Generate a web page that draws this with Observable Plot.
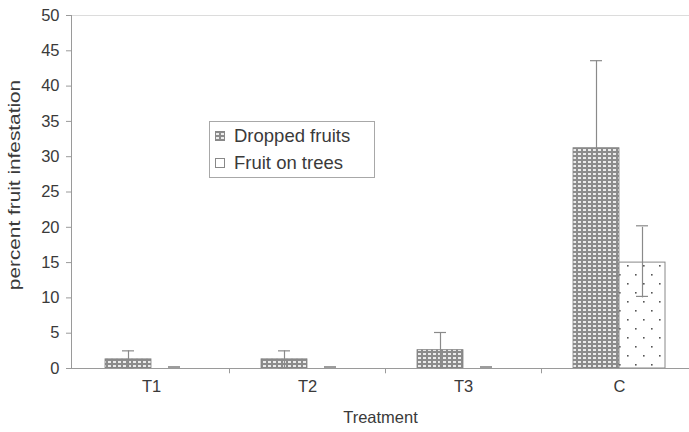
<!DOCTYPE html>
<html>
<head>
<meta charset="utf-8">
<script src="https://cdn.jsdelivr.net/npm/d3@7"></script>
<script src="https://cdn.jsdelivr.net/npm/@observablehq/plot@0.6"></script>
<style>
  html, body { margin: 0; padding: 0; background: #fff; }
  #chart { width: 689px; height: 432px; }
  svg { font-family: "Liberation Sans", Arial, sans-serif; }
</style>
</head>
<body>
<div id="chart"></div>
<script>
const treatments = ["T1", "T2", "T3", "C"];
const seriesNames = ["Dropped fruits", "Fruit on trees"];
const droppedMean = [1.3, 1.3, 2.6, 31.2];
const droppedErr  = [1.2, 1.2, 2.5, 12.4];
const treesMean   = [0, 0, 0, 15.0];
const treesErr    = [0, 0, 0, 5.0];
const yTicks = [0, 5, 10, 15, 20, 25, 30, 35, 40, 45, 50];

const dropped = treatments.map((t, i) => ({treatment: t, value: droppedMean[i], lo: droppedMean[i] - droppedErr[i], hi: droppedMean[i] + droppedErr[i]}));
const trees = treatments.map((t, i) => ({treatment: t, value: treesMean[i], lo: treesMean[i] - treesErr[i], hi: treesMean[i] + treesErr[i]}));

const W = 689, H = 432;
const barW = 46;
const rangeX = [73, 697];
const step = (rangeX[1] - rangeX[0]) / treatments.length;
const padInner = 1 - barW / step;
const textColor = "#3a3a3a";
const axisColor = "#9a9a9a";
const errColor = "#8a8a8a";
const fs = 16;

function errorMarks(data, dx, dy) {
  return [
    Plot.ruleX(data, {x: "treatment", y1: "lo", y2: "hi", dx, stroke: errColor, strokeWidth: 1.2}),
    Plot.tickY(data, {x: "treatment", y: "hi", dx, dy, insetLeft: 17, insetRight: 17, stroke: errColor, strokeWidth: 1.2}),
    Plot.tickY(data, {x: "treatment", y: "lo", dx, dy, insetLeft: 17, insetRight: 17, stroke: errColor, strokeWidth: 1.2})
  ];
}

const chart = Plot.plot({
  width: W,
  height: H,
  marginLeft: 71,
  marginRight: 0,
  marginTop: 15,
  marginBottom: 64,
  style: {fontSize: fs + "px", color: textColor, background: "#fff"},
  x: {type: "band", domain: treatments, range: rangeX, paddingInner: padInner, paddingOuter: padInner / 2, label: null},
  y: {domain: [0, 50], label: null},
  marks: [
    Plot.frame({anchor: "top", stroke: "#dcdcdc"}),
    Plot.barY(dropped.filter(d => d.value > 0), {x: "treatment", y: "value", dx: -barW / 2, fill: "url(#patDropped)", stroke: "#808080", strokeWidth: 0.8}),
    Plot.barY(trees.filter(d => d.value > 0), {x: "treatment", y: "value", dx: barW / 2, fill: "url(#patTrees)", stroke: "#888", strokeWidth: 1}),
    Plot.frame({anchor: "left", stroke: axisColor}),
    Plot.frame({anchor: "bottom", stroke: axisColor}),
    ...errorMarks(dropped, -barW / 2, 0),
    ...errorMarks(trees, barW / 2, -1.5),
    Plot.ruleX(treatments.slice(1), {x: d => d, dx: -step / 2, y1: 0, y2: -0.75, stroke: axisColor}),
    Plot.axisY({ticks: yTicks, tickSize: 5, tickPadding: 7, stroke: axisColor, fill: textColor, fontSize: fs + 0.5, label: null}),
    Plot.axisX({tickSize: 0, tickPadding: 12, fill: textColor, fontSize: fs + 0.5, label: null}),
    Plot.text(["Treatment"], {frameAnchor: "bottom", dy: 54, fill: textColor, fontSize: fs + 0.5}),
    Plot.text(["percent fruit infestation"], {frameAnchor: "left", textAnchor: "middle", dx: -57, dy: -7, rotate: -90, fill: textColor, fontSize: fs, className: "ylab"})
  ]
});

document.getElementById("chart").appendChild(chart);

const svg = d3.select(chart);
// stretch the y label along its length to match the reference's proportions
svg.selectAll(".ylab text").attr("transform", function() { return (this.getAttribute("transform") || "") + " scale(1.3,1)"; });

const defs = svg.insert("defs", ":first-child");
const p1 = defs.append("pattern").attr("id", "patDropped").attr("patternUnits", "userSpaceOnUse").attr("width", 5).attr("height", 4);
p1.append("rect").attr("width", 5).attr("height", 4).attr("fill", "#8c8c8c");
p1.append("rect").attr("x", 1).attr("y", 1).attr("width", 3).attr("height", 2).attr("fill", "#ececec");
const p2 = defs.append("pattern").attr("id", "patTrees").attr("patternUnits", "userSpaceOnUse").attr("width", 16).attr("height", 18);
p2.append("rect").attr("width", 16).attr("height", 18).attr("fill", "#fff");
p2.append("rect").attr("x", 4).attr("y", 4).attr("width", 1.6).attr("height", 1.6).attr("fill", "#555");
p2.append("rect").attr("x", 12).attr("y", 13).attr("width", 1.6).attr("height", 1.6).attr("fill", "#555");

// Legend
const lg = svg.append("g").attr("font-size", 18.5).attr("fill", textColor).attr("text-anchor", "start");
lg.append("rect").attr("x", 209.5).attr("y", 121.5).attr("width", 165).attr("height", 56).attr("fill", "#fff").attr("stroke", "#a8a8a8");
seriesNames.forEach((name, i) => {
  const cy = 136 + i * 27;
  lg.append("rect").attr("x", 215.5).attr("y", cy - 4.5).attr("width", 9).attr("height", 9)
    .attr("fill", i === 0 ? "url(#patDropped)" : "url(#patTrees)").attr("stroke", "#888");
  lg.append("text").attr("x", 234).attr("y", cy).attr("dy", "0.35em").attr("text-anchor", "start").text(name);
});
</script>
</body>
</html>
